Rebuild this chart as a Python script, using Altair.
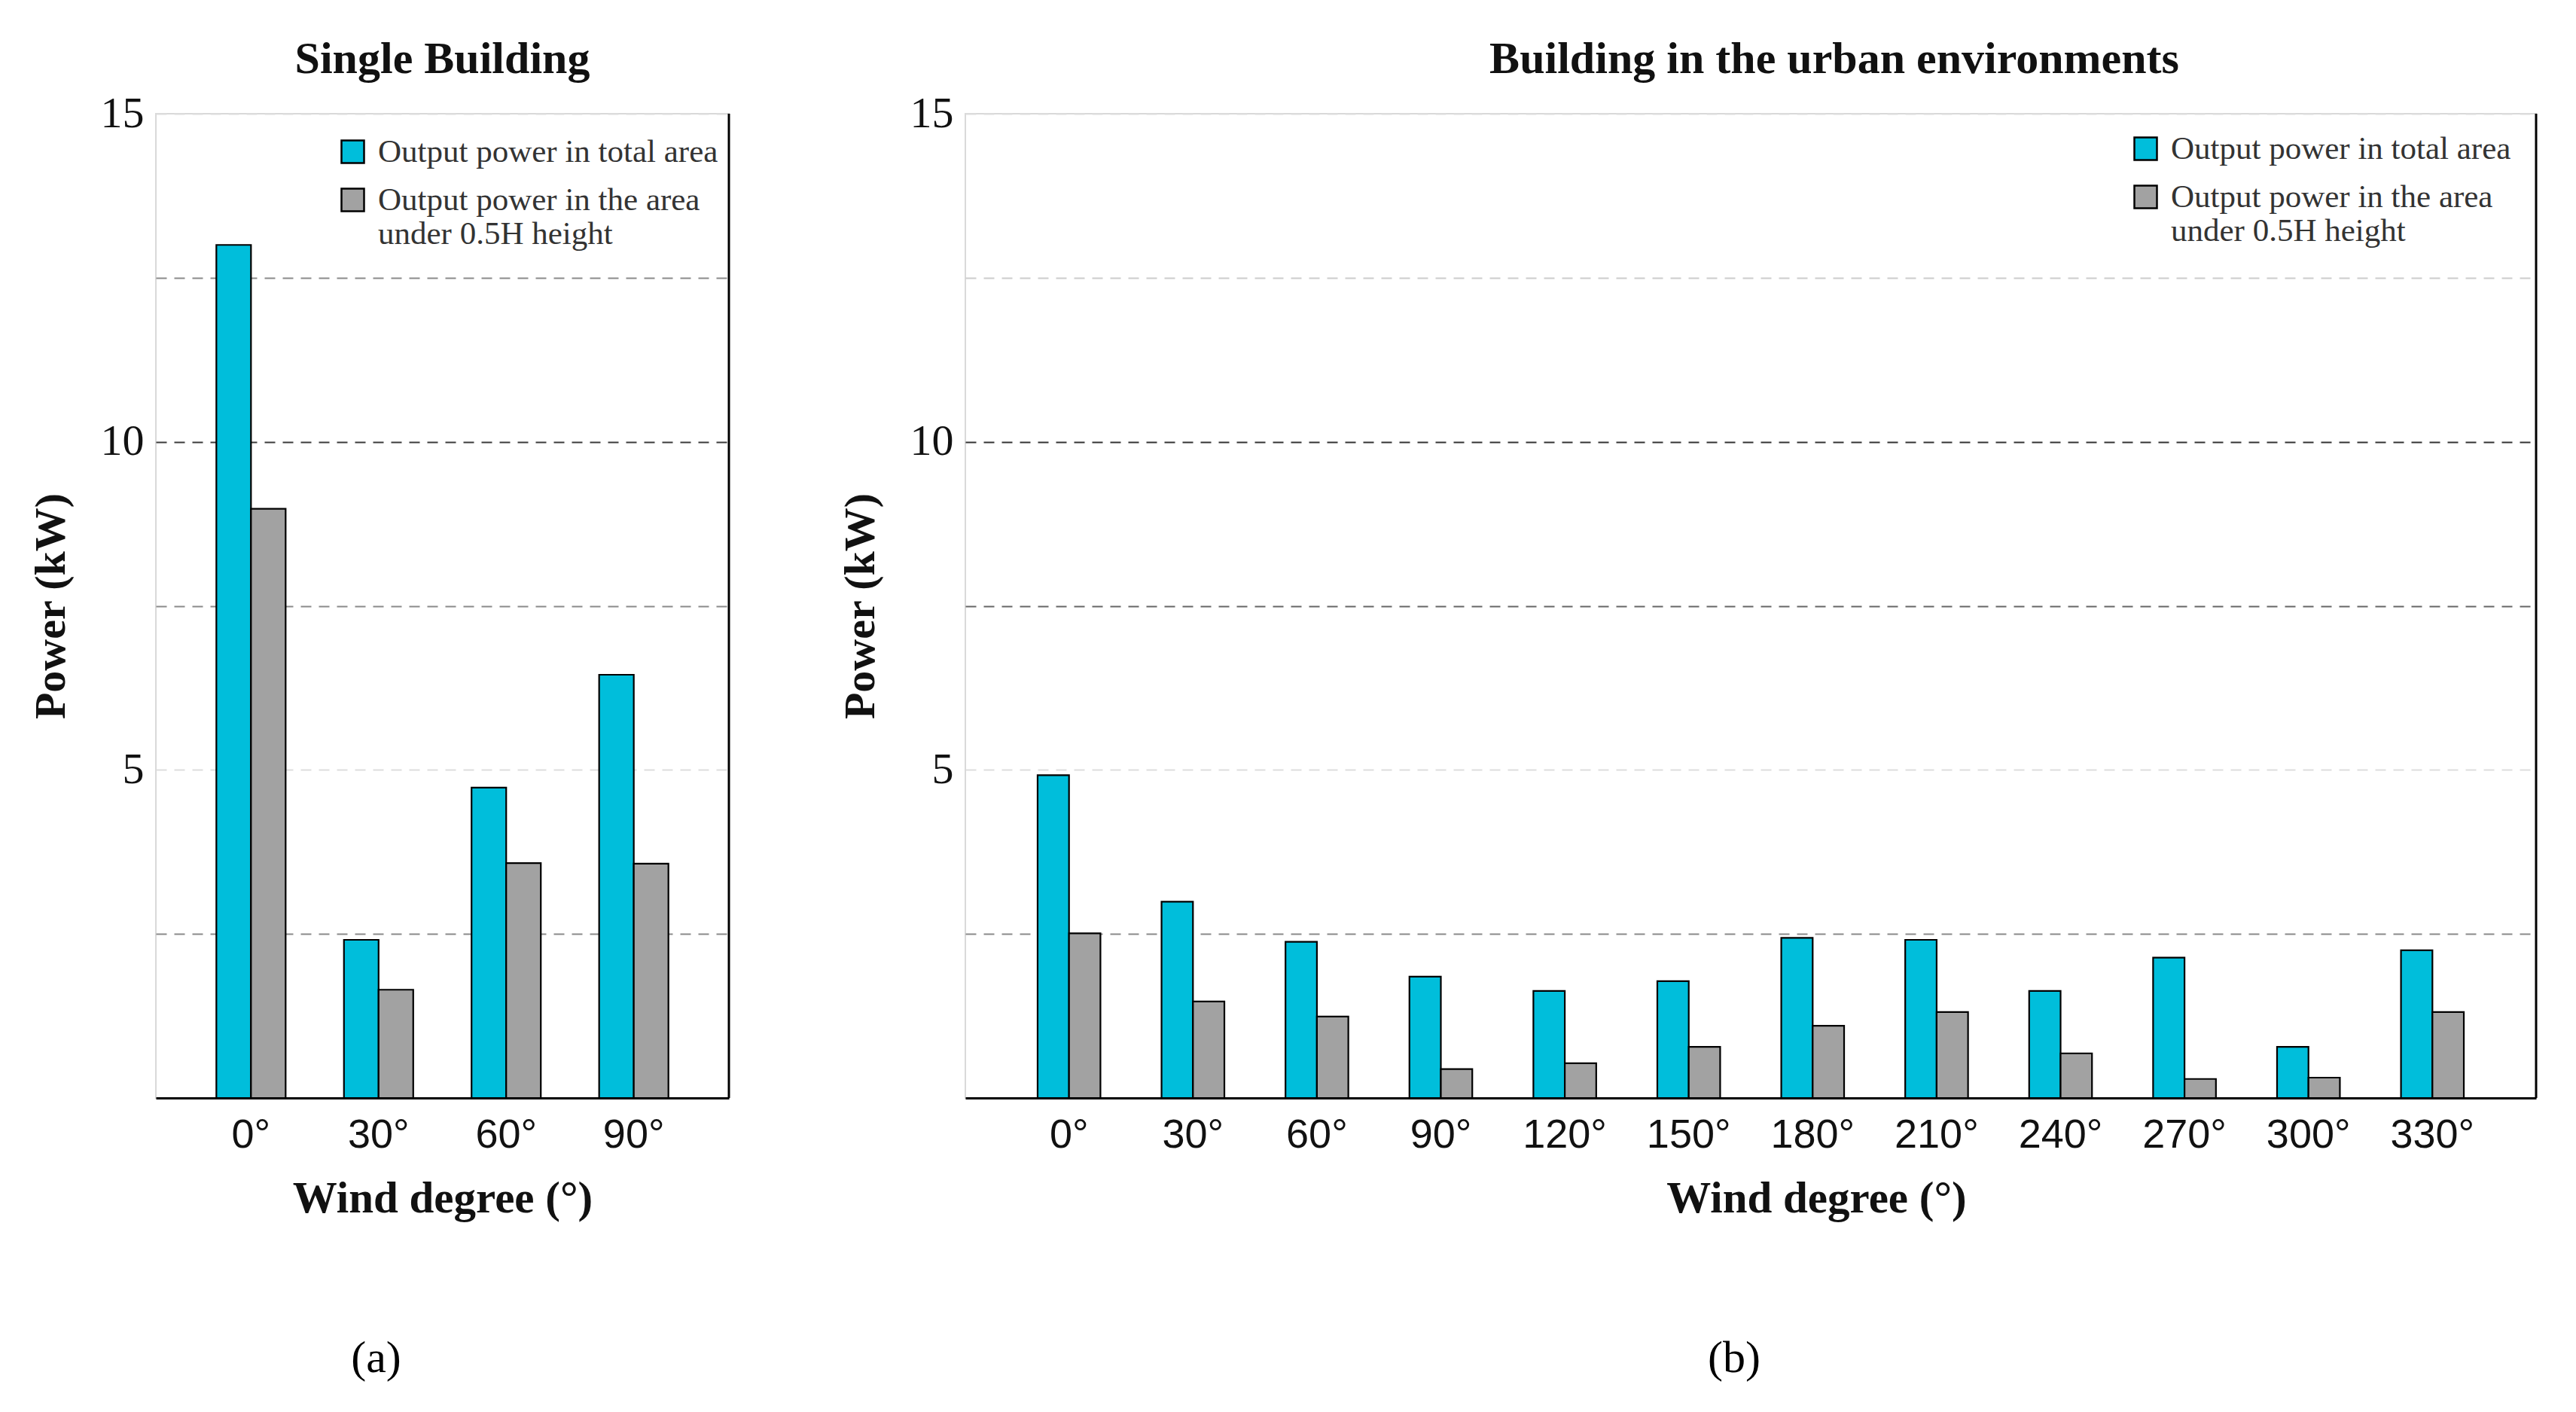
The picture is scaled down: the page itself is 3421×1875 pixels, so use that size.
import altair as alt
import pandas as pd

SERIES = ["Output power in total area", "Output power in the area under 0.5H height"]
COLORS = ["#00BEDB", "#A2A2A2"]

single_deg = ["0°", "30°", "60°", "90°"]
single_total = [13.0, 2.41, 4.73, 6.45]
single_under = [8.98, 1.65, 3.58, 3.57]

urban_deg = ["0°", "30°", "60°", "90°", "120°", "150°", "180°", "210°", "240°", "270°", "300°", "330°"]
urban_total = [4.92, 2.99, 2.38, 1.85, 1.63, 1.78, 2.44, 2.41, 1.63, 2.14, 0.78, 2.25]
urban_under = [2.51, 1.47, 1.24, 0.44, 0.53, 0.78, 1.10, 1.31, 0.68, 0.29, 0.31, 1.31]

y_values = [2.5, 5, 7.5, 10, 12.5, 15]

SERIF = "Liberation Serif"
SANS = "Liberation Sans"
H = 1307


def panel(degs, total, under, W, title, title_dx, xtitle_dx, tag, tag_dx,
          p_in, p_out, leg_x, leg_y, grid_colors, use_encode):
    n = len(degs)
    df = pd.DataFrame({
        "deg": degs * 2,
        "series": [SERIES[0]] * n + [SERIES[1]] * n,
        "value": total + under,
    })
    conds = [{"test": f"datum.value == {v}", "value": c} for v, c in grid_colors.items()]
    legend_kw = dict(
        orient="none", legendX=leg_x, legendY=leg_y, title=None,
        symbolType="square", symbolSize=900, symbolStrokeColor="black",
        symbolStrokeWidth=2.5, symbolOpacity=1,
        labelFont=SERIF, labelFontSize=43, labelColor="#333333",
        labelOffset=12, labelLimit=1200, rowPadding=20,
        labelExpr=("datum.label == '" + SERIES[1] + "' ? "
                   "['Output power in the area', 'under 0.5H height'] : datum.label"),
    )
    if use_encode:
        legend_kw["labelBaseline"] = "alphabetic"
        legend_kw["encode"] = {"labels": {"update": {"dy": {"value": 13}}}}
    else:
        legend_kw["labelBaseline"] = "middle"

    bars = alt.Chart(df).mark_bar(stroke="black", strokeWidth=2.2).encode(
        x=alt.X("deg:N", sort=degs,
                scale=alt.Scale(paddingInner=p_in, paddingOuter=p_out),
                axis=alt.Axis(title="Wind degree (°)", labelAngle=0, ticks=False,
                              domainColor="black", domainWidth=3,
                              labelFont=SANS, labelFontSize=54, labelColor="#111111",
                              labelPadding=22, titlePadding=28, titleFontSize=59,
                              titleX=W / 2 + xtitle_dx)),
        xOffset=alt.XOffset("series:N", sort=SERIES,
                            scale=alt.Scale(paddingInner=0, paddingOuter=0)),
        y=alt.Y("value:Q", scale=alt.Scale(domain=[0, 15], nice=False),
                axis=alt.Axis(title="Power (kW)", values=y_values,
                              labelExpr="datum.value % 5 == 0 ? format(datum.value, 'd') : ''",
                              ticks=False, domain=False, labelFlush=False,
                              labelFont=SERIF, labelFontSize=58, labelColor="#111111",
                              labelPadding=16, titlePadding=36, titleFontSize=58,
                              grid=True, gridDash=[14, 10], gridWidth=2,
                              gridColor={"condition": conds, "value": "#8a8a8a"})),
        color=alt.Color("series:N", sort=SERIES,
                        scale=alt.Scale(domain=SERIES, range=COLORS),
                        legend=alt.Legend(**legend_kw)),
    )
    border = alt.Chart(pd.DataFrame({"edge": ["right"]})).mark_rule(
        color="black", strokeWidth=3).encode(
        x=alt.value(W), y=alt.value(0), y2=alt.value(H))
    tag_text = alt.Chart(pd.DataFrame({"tag": [tag]})).mark_text(
        font=SERIF, fontSize=60, color="black", baseline="middle", align="center").encode(
        text="tag:N", x=alt.value(W / 2 + tag_dx), y=alt.value(H + 346))
    return alt.layer(bars, border, tag_text).properties(
        width=W, height=H,
        title=alt.TitleParams(title, font=SERIF, fontSize=60, fontWeight="bold",
                              color="#111111", frame="group", dx=title_dx, offset=12),
    )


def build(use_encode):
    left = panel(single_deg, single_total, single_under, 761, "Single Building",
                 0, 0, "(a)", -88, 0.457, 0.474, 240, 29,
                 {10: "#3a3a3a", 5: "#dddddd", 15: "#dddddd", 12.5: "#8a8a8a"}, use_encode)
    right = panel(urban_deg, urban_total, urban_under, 2086,
                  "Building in the urban environments",
                  111, 87, "(b)", -22, 0.493, 0.583, 1546, 25,
                  {10: "#333333", 5: "#dddddd", 15: "#dddddd", 12.5: "#cccccc", 7.5: "#666666"},
                  use_encode)
    chart = alt.hconcat(left, right, spacing=142).resolve_scale(
        color="independent", x="independent", y="independent", xOffset="independent"
    ).properties(
        padding={"left": 30, "top": 40, "right": 5, "bottom": 5},
        background="white",
    ).configure_view(stroke="#d9d9d9", strokeWidth=2).configure_axis(
        titleFont=SERIF, titleFontSize=56, titleFontWeight="bold", titleColor="#111111"
    )
    return chart


try:
    chart = build(True)
    chart.to_dict()
except Exception:
    chart = build(False)

chart.save("out.html", embed_options={"renderer": "svg", "actions": False})
